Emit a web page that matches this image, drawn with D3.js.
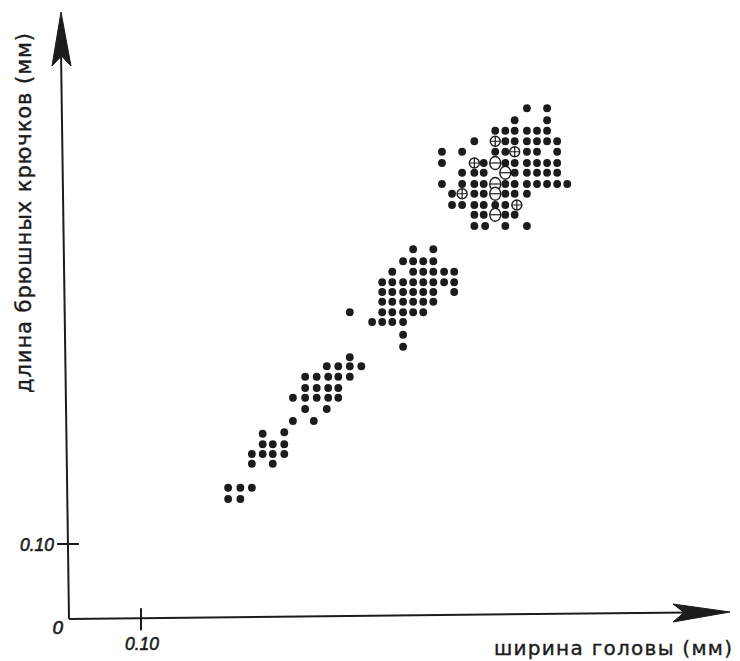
<!DOCTYPE html>
<html>
<head>
<meta charset="utf-8">
<script src="https://cdn.jsdelivr.net/npm/d3@7"></script>
<style>
  html, body { margin: 0; padding: 0; background: #ffffff; }
  svg { display: block; }
</style>
</head>
<body>
<svg id="chart" width="740" height="661"></svg>
<script>
// ---- DATA (mm) : each row = [hookLength, [headWidth, ...]] ----
const instar1 = [
  [0.175, [0.221, 0.238, 0.254]],
  [0.160, [0.221, 0.238]]
];
const instar2 = [
  [0.247, [0.269]],
  [0.233, [0.269, 0.283, 0.299]],
  [0.220, [0.254, 0.269, 0.283, 0.299]],
  [0.207, [0.254, 0.283]]
];
const instar3 = [
  [0.349, [0.390]],
  [0.337, [0.358, 0.374, 0.390, 0.406]],
  [0.323, [0.328, 0.344, 0.360, 0.374, 0.390]],
  [0.308, [0.328, 0.344, 0.360, 0.374]],
  [0.295, [0.311, 0.328, 0.344, 0.360, 0.374]],
  [0.280, [0.328, 0.358]],
  [0.264, [0.311, 0.340]],
  [0.249, [0.299]]
];
const instar4 = [
  [0.493, [0.478, 0.506]],
  [0.477, [0.464, 0.478, 0.492, 0.506]],
  [0.463, [0.449, 0.478, 0.492, 0.506, 0.521, 0.535]],
  [0.449, [0.435, 0.449, 0.464, 0.478, 0.492, 0.506, 0.521, 0.535]],
  [0.436, [0.435, 0.449, 0.464, 0.478, 0.492, 0.506, 0.535]],
  [0.423, [0.435, 0.449, 0.464, 0.478, 0.492, 0.506]],
  [0.409, [0.390, 0.435, 0.449, 0.464, 0.478, 0.492]],
  [0.396, [0.421, 0.435, 0.449, 0.464]],
  [0.379, [0.464]],
  [0.363, [0.464]]
];
const instar5 = [
  [0.681, [0.636, 0.664]],
  [0.665, [0.619, 0.664]],
  [0.651, [0.592, 0.606, 0.619, 0.636, 0.650, 0.664]],
  [0.637, [0.563, 0.606, 0.619, 0.636, 0.650, 0.664, 0.678]],
  [0.623, [0.518, 0.546, 0.592, 0.606, 0.636, 0.650, 0.678]],
  [0.608, [0.518, 0.576, 0.606, 0.619, 0.636, 0.650, 0.664, 0.678]],
  [0.595, [0.546, 0.563, 0.576, 0.619, 0.636, 0.650, 0.664, 0.678]],
  [0.580, [0.518, 0.546, 0.563, 0.576, 0.606, 0.619, 0.636, 0.650, 0.664, 0.678, 0.692]],
  [0.567, [0.532, 0.563, 0.576, 0.606, 0.619, 0.636]],
  [0.552, [0.532, 0.546, 0.563, 0.576, 0.592, 0.606]],
  [0.539, [0.563, 0.576, 0.606, 0.619]],
  [0.524, [0.563, 0.578, 0.606, 0.636]]
];
// open symbols: [headWidth, hookLength]
const openCrossed = [
  [0.592, 0.637], [0.619, 0.623], [0.563, 0.608], [0.546, 0.567], [0.622, 0.552]
];
const openBarred = [
  [0.592, 0.608], [0.606, 0.595], [0.592, 0.580], [0.592, 0.567], [0.592, 0.539]
];
const xTicks = [0.10];
const yTicks = [0.10];
const xTickLabels = ["0.10"];
const yTickLabels = ["0.10"];
const originLabel = "0";
const xTitle = "ширина головы (мм)";
const yTitle = "длина брюшных крючков (мм)";

// ---- DRAWING ----
const ink = "#1c1c1c";
const svg = d3.select("#chart");
const x = d3.scaleLinear().domain([0, 0.9]).range([69, 717]);
const y = d3.scaleLinear().domain([0, 0.8]).range([619, 19]);

// slight scan skew of the hand-drawn axes
const yAxisTopX = 61, yAxisTopY = 12;
const xAxisTipX = 730, xAxisTipY = 612;
const yAxisXAt = py => x(0) + (yAxisTopX - x(0)) * (y(0) - py) / (y(0) - yAxisTopY);
const xAxisYAt = px => y(0) + (xAxisTipY - y(0)) * (px - x(0)) / (xAxisTipX - x(0));

// axis lines
svg.append("path")
  .attr("d", `M${x(0)},${y(0)} L${yAxisTopX},${yAxisTopY + 40}`)
  .attr("stroke", ink).attr("stroke-width", 2).attr("fill", "none");
svg.append("path")
  .attr("d", `M${x(0)},${y(0)} L${xAxisTipX - 40},${xAxisYAt(xAxisTipX - 40)}`)
  .attr("stroke", ink).attr("stroke-width", 2).attr("fill", "none");

// arrowheads
svg.append("path")
  .attr("d", `M${yAxisTopX},${yAxisTopY} L${yAxisTopX + 10},${yAxisTopY + 54} L${yAxisTopX + 0.5},${yAxisTopY + 44} L${yAxisTopX - 9},${yAxisTopY + 54} Z`)
  .attr("fill", ink).attr("stroke", ink).attr("stroke-width", 1).attr("stroke-linejoin", "round");
svg.append("path")
  .attr("d", `M${xAxisTipX},${xAxisTipY} L${xAxisTipX - 57},${xAxisTipY - 8} L${xAxisTipX - 46},${xAxisYAt(xAxisTipX - 46)} L${xAxisTipX - 57},${xAxisTipY + 10} Z`)
  .attr("fill", ink).attr("stroke", ink).attr("stroke-width", 1).attr("stroke-linejoin", "round");

// ticks (cross the axis)
svg.selectAll("line.ytick").data(yTicks).join("line")
  .attr("class", "ytick")
  .attr("x1", d => yAxisXAt(y(d)) - 11).attr("x2", d => yAxisXAt(y(d)) + 11)
  .attr("y1", d => y(d)).attr("y2", d => y(d))
  .attr("stroke", ink).attr("stroke-width", 2);
svg.selectAll("line.xtick").data(xTicks).join("line")
  .attr("class", "xtick")
  .attr("x1", d => x(d)).attr("x2", d => x(d))
  .attr("y1", d => xAxisYAt(x(d)) - 10).attr("y2", d => xAxisYAt(x(d)) + 12)
  .attr("stroke", ink).attr("stroke-width", 2);

// tick labels
const tickFont = "'Liberation Sans', Arial, sans-serif";
svg.selectAll("text.ylab").data(yTicks).join("text")
  .attr("class", "ylab")
  .attr("x", 54).attr("y", d => y(d) + 7)
  .attr("text-anchor", "end")
  .attr("font-family", tickFont).attr("font-style", "italic")
  .attr("font-size", 19).attr("fill", ink)
  .attr("stroke", ink).attr("stroke-width", 0.6)
  .attr("textLength", 34).attr("lengthAdjust", "spacingAndGlyphs")
  .text((d, i) => yTickLabels[i]);
svg.selectAll("text.xlab").data(xTicks).join("text")
  .attr("class", "xlab")
  .attr("x", d => x(d) - 16).attr("y", 650)
  .attr("font-family", tickFont).attr("font-style", "italic")
  .attr("font-size", 19).attr("fill", ink)
  .attr("stroke", ink).attr("stroke-width", 0.6)
  .attr("textLength", 34).attr("lengthAdjust", "spacingAndGlyphs")
  .text((d, i) => xTickLabels[i]);
svg.append("text")
  .attr("x", 63).attr("y", 634).attr("text-anchor", "end")
  .attr("font-family", tickFont).attr("font-style", "italic")
  .attr("font-size", 19).attr("fill", ink)
  .attr("stroke", ink).attr("stroke-width", 0.6)
  .text(originLabel);

// axis titles
const titleFont = "'DejaVu Sans', sans-serif";
svg.append("text")
  .attr("x", 494).attr("y", 655)
  .attr("font-family", titleFont).attr("font-size", 20).attr("fill", ink)
  .attr("stroke", ink).attr("stroke-width", 0.4)
  .attr("textLength", 238).attr("lengthAdjust", "spacing")
  .text(xTitle);
svg.append("text")
  .attr("transform", "translate(31,393) rotate(-90)")
  .attr("font-family", titleFont).attr("font-size", 21).attr("fill", ink)
  .attr("stroke", ink).attr("stroke-width", 0.4)
  .attr("textLength", 360).attr("lengthAdjust", "spacing")
  .text(yTitle);

// solid points
const flatten = rows => rows.flatMap(([yv, xs]) => xs.map(xv => [xv, yv]));
const solid = [instar1, instar2, instar3, instar4, instar5].flatMap(flatten);
svg.append("g").selectAll("circle").data(solid).join("circle")
  .attr("cx", d => x(d[0])).attr("cy", d => y(d[1]))
  .attr("r", 3.9).attr("fill", ink);

// open crossed circles
const gc = svg.append("g").selectAll("g").data(openCrossed).join("g")
  .attr("transform", d => `translate(${x(d[0])},${y(d[1])})`);
gc.append("circle").attr("r", 5).attr("fill", "#fff").attr("stroke", ink).attr("stroke-width", 1.4);
gc.append("path").attr("d", "M-5,0H5M0,-5V5").attr("stroke", ink).attr("stroke-width", 1.2);

// open barred circles
const gb = svg.append("g").selectAll("g").data(openBarred).join("g")
  .attr("transform", d => `translate(${x(d[0])},${y(d[1])})`);
gb.append("ellipse").attr("rx", 5.5).attr("ry", 6.5).attr("fill", "#fff").attr("stroke", ink).attr("stroke-width", 1.4);
gb.append("path").attr("d", "M-5.5,0H5.5").attr("stroke", ink).attr("stroke-width", 1.2);
</script>
</body>
</html>
